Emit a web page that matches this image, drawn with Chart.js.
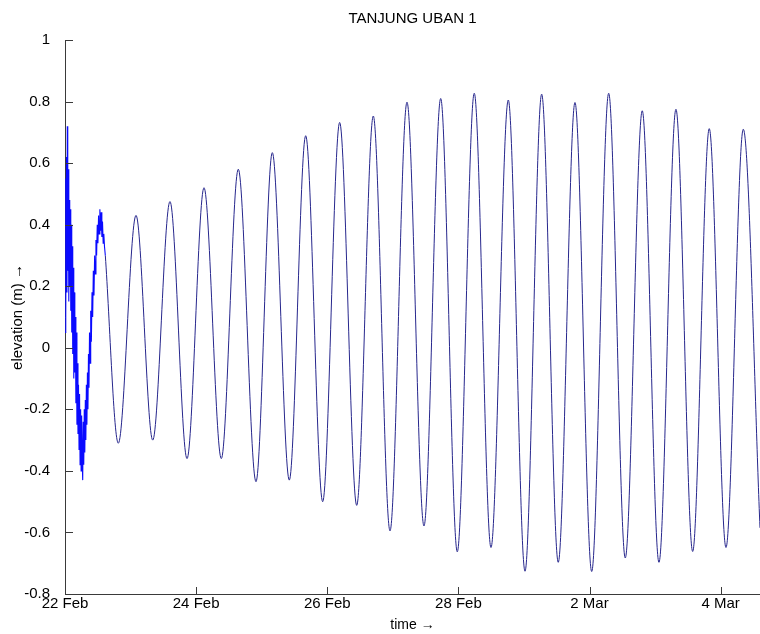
<!DOCTYPE html>
<html>
<head>
<meta charset="utf-8">
<script src="https://cdn.jsdelivr.net/npm/chart.js@4.4.0/dist/chart.umd.min.js"></script>
<style>
  html, body { margin: 0; padding: 0; background: #fff; }
  #wrap { width: 760px; height: 634px; }
</style>
</head>
<body>
<div id="wrap"><canvas id="myChart"></canvas></div>
<script>
// time in days after 22 Feb 00:00, elevation in metres

// noisy start of the record (first ~15 hours)
const noiseDays = [
  0.000, 0.008, 0.015, 0.023, 0.030, 0.035, 0.042, 0.050, 0.058, 0.065,
  0.072, 0.080, 0.088, 0.095, 0.103, 0.110, 0.118, 0.126, 0.134, 0.142,
  0.150, 0.158, 0.166, 0.174, 0.182, 0.190, 0.198, 0.206, 0.214, 0.222,
  0.230, 0.238, 0.246, 0.254, 0.262, 0.270, 0.278, 0.286, 0.294, 0.302,
  0.310, 0.318, 0.326, 0.334, 0.342, 0.350, 0.358, 0.366, 0.374, 0.382,
  0.392, 0.402, 0.412, 0.422, 0.432, 0.442, 0.452, 0.462, 0.472, 0.482,
  0.492, 0.502, 0.512, 0.522, 0.532, 0.542, 0.552, 0.562, 0.572, 0.582,
  0.592, 0.602, 0.615
];
const noiseElev = [
  0.05, 0.55, 0.10, 0.62, 0.18, 0.72, 0.25, 0.58, 0.15, 0.48,
  0.20, 0.45, 0.12, 0.40, 0.05, 0.33, -0.02, 0.26, -0.10, 0.18,
  -0.08, 0.10, -0.18, 0.05, -0.25, -0.05, -0.28, -0.12, -0.33, -0.15,
  -0.38, -0.20, -0.40, -0.22, -0.36, -0.43, -0.24, -0.38, -0.20, -0.34,
  -0.17, -0.30, -0.12, -0.25, -0.08, -0.20, -0.02, -0.13, 0.05, -0.05,
  0.12, 0.02, 0.18, 0.10, 0.25, 0.17, 0.30, 0.24, 0.35, 0.30,
  0.40, 0.34, 0.43, 0.37, 0.45, 0.38, 0.44, 0.36, 0.41, 0.34,
  0.37, 0.33, 0.30
];

// clean tide after that: high and low waters
const tideDays = [
  0.615, 0.813, 1.083, 1.338, 1.601, 1.861, 2.120, 2.384, 2.643, 2.913,
  3.162, 3.421, 3.671, 3.930, 4.189, 4.449, 4.702, 4.957, 5.216, 5.475,
  5.730, 5.983, 6.242, 6.497, 6.761, 7.016, 7.270, 7.523, 7.778, 8.033,
  8.292, 8.545, 8.804, 9.059, 9.318, 9.573, 9.826, 10.081, 10.345, 10.600
];
const tideElev = [
  0.30, -0.31, 0.43, -0.30, 0.475, -0.36, 0.52, -0.36, 0.58, -0.435,
  0.634, -0.43, 0.689, -0.50, 0.732, -0.512, 0.753, -0.595, 0.798, -0.579,
  0.81, -0.663, 0.827, -0.649, 0.805, -0.726, 0.824, -0.697, 0.797, -0.727,
  0.827, -0.683, 0.77, -0.697, 0.775, -0.662, 0.712, -0.649, 0.71, -0.585
];

const xTickDays = [0, 2, 4, 6, 8, 10];
const xTickLabels = ["22 Feb", "24 Feb", "26 Feb", "28 Feb", "2 Mar", "4 Mar"];

const FONT = "'Liberation Sans', Arial, Helvetica, sans-serif";

// matlab style ticks pointing into the plot
const inwardTicks = {
  id: "inwardTicks",
  afterDraw(chart) {
    const ctx = chart.ctx;
    const xs = chart.scales.x;
    const ys = chart.scales.y;
    ctx.save();
    ctx.strokeStyle = "#3a3a3a";
    ctx.lineWidth = 1;
    ctx.beginPath();
    xs.ticks.forEach(function (t) {
      const px = Math.round(xs.getPixelForValue(t.value)) + 0.5;
      ctx.moveTo(px, xs.top);
      ctx.lineTo(px, xs.top - 7);
    });
    ys.ticks.forEach(function (t) {
      const py = Math.round(ys.getPixelForValue(t.value)) + 0.5;
      ctx.moveTo(ys.right, py);
      ctx.lineTo(ys.right + 8, py);
    });
    ctx.stroke();
    ctx.restore();
  },
};

const ctx = document.getElementById("myChart").getContext("2d");

new Chart(ctx, {
  type: "line",
  data: {
    datasets: [
      {
        label: "noisy start",
        data: noiseDays.map((d, i) => ({ x: d, y: noiseElev[i] })),
        borderColor: "#0a0aff",
        borderWidth: 1.1,
        pointRadius: 0,
        tension: 0,
      },
      {
        label: "elevation",
        data: tideDays.map((d, i) => ({ x: d, y: tideElev[i] })),
        borderColor: "#26268c",
        borderWidth: 1,
        pointRadius: 0,
        cubicInterpolationMode: "monotone",
      },
    ],
  },
  options: {
    responsive: true,
    maintainAspectRatio: false,
    animation: false,
    layout: { padding: 0 },
    scales: {
      x: {
        type: "linear",
        min: 0,
        max: 10.6,
        afterBuildTicks: function (scale) {
          scale.ticks = xTickDays.map((v) => ({ value: v }));
        },
        afterFit: function (scale) {
          scale.height = 40;
        },
        grid: { display: false, drawTicks: false },
        border: { display: true, color: "#3a3a3a", width: 1 },
        ticks: {
          autoSkip: false,
          maxRotation: 0,
          padding: 1,
          color: "#000",
          font: { family: FONT, size: 15 },
          callback: function (v) {
            return xTickLabels[xTickDays.indexOf(v)];
          },
        },
        title: {
          display: true,
          text: "time \u2192",
          color: "#000",
          font: { family: FONT, size: 14 },
          padding: { top: 0, bottom: 0 },
        },
      },
      y: {
        min: -0.8,
        max: 1,
        afterFit: function (scale) {
          scale.width = 65;
        },
        grid: { display: false, drawTicks: false },
        border: { display: true, color: "#3a3a3a", width: 1 },
        ticks: {
          stepSize: 0.2,
          padding: 15,
          color: "#000",
          font: { family: FONT, size: 15 },
          callback: function (v) {
            return String(Math.round(v * 10) / 10);
          },
        },
        title: {
          display: true,
          text: "elevation (m) \u2192",
          color: "#000",
          font: { family: FONT, size: 15 },
          padding: { top: 9, bottom: 0 },
        },
      },
    },
    plugins: {
      legend: { display: false },
      tooltip: { enabled: false },
      title: {
        display: true,
        fullSize: false,
        text: "TANJUNG UBAN 1",
        color: "#000",
        font: { family: FONT, size: 15, weight: "normal" },
        padding: { top: 10, bottom: 12 },
      },
    },
  },
  plugins: [inwardTicks],
});
</script>
</body>
</html>
